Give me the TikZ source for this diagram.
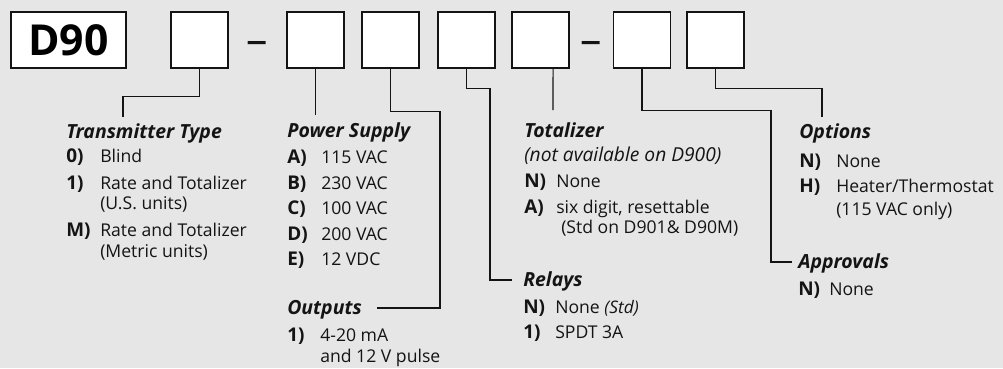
\documentclass[tikz,border=0pt]{standalone}
\usepackage{fontspec}
\setmainfont{Open Sans}
\usepackage{xcolor}
\definecolor{bggray}{RGB}{230,230,230}
\definecolor{inkgray}{RGB}{20,20,20}
\usetikzlibrary{positioning}
\tikzset{
  codebox/.style={draw=inkgray,fill=white,line width=0.9pt,inner sep=0pt,
    minimum width=42.75pt,minimum height=42pt},
  wire/.style={draw=inkgray,line width=0.8pt},
  head/.style={anchor=base west,inner sep=0pt,inkgray,
    font=\fontsize{14.6}{17}\selectfont\bfseries\itshape},
  key/.style={anchor=base west,inner sep=0pt,inkgray,
    font=\fontsize{14.2}{17}\selectfont\bfseries},
  item/.style={anchor=base west,inner sep=0pt,inkgray,
    font=\fontsize{13.2}{15.5}\selectfont},
  note/.style={anchor=base west,inner sep=0pt,inkgray,
    font=\fontsize{14.4}{17}\selectfont\itshape}
}

\begin{document}
\begin{tikzpicture}[x=0.75pt,y=-0.75pt]
  \fill[bggray] (0,0) rectangle (1003,368);
  \useasboundingbox (0,0) rectangle (1003,368);

  % model code boxes
  \node[codebox,minimum width=86.25pt,font=\fontsize{32}{32}\selectfont\bfseries] (d90) at (68.5,40) {D90};
  \foreach \n/\x in {b1/199.5, b2/315.5, b3/390.5, b4/466.5, b5/540.5, b6/642, b7/715.5}{
    \node[codebox] (\n) at (\x,40) {};
  }
  \node[inner sep=0pt,inkgray,font=\fontsize{32}{32}\selectfont] (dash1) at (257.5,48) {\textendash};
  \node[inner sep=0pt,inkgray,font=\fontsize{32}{32}\selectfont] (dash2) at (591.5,48) {\textendash};

  % free ends of the leaders
  \coordinate (c1) at (123,117);
  \coordinate (c2) at (315.5,115);
  \coordinate (c3) at (377,308);
  \coordinate (c4) at (512,280);
  \coordinate (c5) at (553,110);
  \coordinate (c6) at (792,262);
  \coordinate (c7) at (822,117);

  \draw[wire] (b1.south) -- ++(0,28) -| (c1);
  \draw[wire] (b2.south) -- (c2);
  \draw[wire] (b3.south) -- ++(0,43) -- ++(49.5,0) |- (c3);
  \draw[wire] (b4.south) -- ++(0,20) -- ++(23.5,0) |- (c4);
  \draw[wire] ([xshift=9.4pt]b5.south) -- (c5);
  \draw[wire] (b6.south) -- ++(0,42) -- ++(129,0) |- (c6);
  \draw[wire] (b7.south) -- ++(0,20) -| (c7);

  % transmitter type
  \node[head] (tt) at (66,138) {Transmitter Type};
  \foreach \y/\k/\t [count=\i] in {162/0)/Blind, 189/1)/Rate and Totalizer, 236/M)/Rate and Totalizer}{
    \node[key] (tt-k\i) at (66,\y) {\k};
    \node[item] (tt-t\i) at (100,\y) {\t};
  }
  \node[item] (tt-t2b) at (100,209) {(U.S. units)};
  \node[item] (tt-t3b) at (100,257) {(Metric units)};

  % power supply
  \node[head] (ps) at (287,137) {Power Supply};
  \foreach \y/\k/\t [count=\i] in {163/A)/115 VAC, 189/B)/230 VAC,
      214/C)/100 VAC, 240/D)/200 VAC, 265/E)/12 VDC}{
    \node[key] (ps-k\i) at (287,\y) {\k};
    \node[item] (ps-t\i) at (321,\y) {\t};
  }

  % outputs
  \node[head] (out) at (287,314) {Outputs};
  \node[key] (out-k1) at (287,341) {1)};
  \node[item] (out-t1) at (320,341) {4-20 mA};
  \node[item] (out-t1b) at (320,362) {and 12 V pulse};

  % totalizer
  \node[head] (tot) at (524,137) {Totalizer};
  \node[note] (tot-n) at (524,161) {(not available on D900)};
  \foreach \y/\k/\t [count=\i] in {187/N)/None, 213/A)/{six digit, resettable}}{
    \node[key] (tot-k\i) at (524,\y) {\k};
    \node[item] (tot-t\i) at (556,\y) {\t};
  }
  \node[item] (tot-t2b) at (561,233) {(Std on D901\& D90M)};

  % relays
  \node[head] (rel) at (523,286) {Relays};
  \foreach \y/\k/\t [count=\i] in {313/N)/{None {\itshape\fontsize{13}{15}\selectfont(Std)}},
      338/1)/SPDT 3A}{
    \node[key] (rel-k\i) at (523,\y) {\k};
    \node[item] (rel-t\i) at (555,\y) {\t};
  }

  % options
  \node[head] (opt) at (799,138) {Options};
  \foreach \y/\k/\t [count=\i] in {167/N)/None, 192/H)/{Heater/Thermostat}}{
    \node[key] (opt-k\i) at (799,\y) {\k};
    \node[item] (opt-t\i) at (836,\y) {\t};
  }
  \node[item] (opt-t2b) at (836,215) {(115 VAC only)};

  % approvals
  \node[head] (apr) at (798,268) {Approvals};
  \node[key] (apr-k1) at (798,295) {N)};
  \node[item] (apr-t1) at (829,295) {None};
\end{tikzpicture}
\end{document}
